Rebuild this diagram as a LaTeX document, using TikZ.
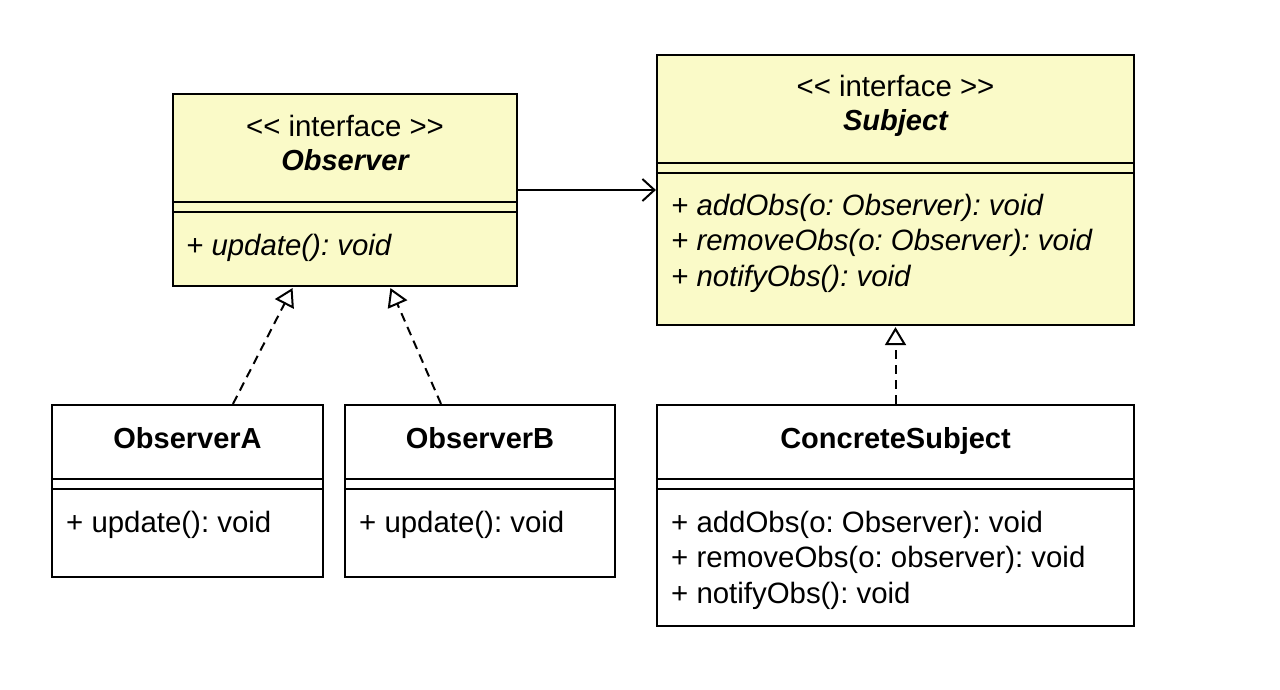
\documentclass[tikz,border=0pt]{standalone}
\usepackage{fontspec}
\setmainfont{Liberation Sans}
\usetikzlibrary{arrows.meta,calc}
\definecolor{ifill}{HTML}{FAFAC8}
\frenchspacing
\tikzset{
  cls/.style={draw=black, line width=2.2pt, rectangle, inner sep=0pt},
  iface/.style={cls, fill=ifill},
  plain/.style={cls, fill=white},
  txt/.style={inner sep=0pt, font=\fontsize{29.4}{34}\selectfont},
  ttl/.style={inner sep=0pt, font=\fontsize{29}{34}\selectfont\bfseries},
  sep/.style={line width=2.2pt},
  realize/.style={line width=2pt, dash pattern=on 9pt off 6pt, -{Triangle[open,length=18pt,width=21pt,line width=2pt]}, shorten >=1pt},
  assoc/.style={line width=2pt, -{Straight Barb[length=12pt,width=22pt,line width=2pt]}}
}
\begin{document}
\begin{tikzpicture}[x=1pt,y=-1pt]
\useasboundingbox[fill=white] (0,0) rectangle (1280,690);
% class boxes
\node[iface, minimum width=344pt, minimum height=192pt] (obs) at (345,190) {};
\node[iface, minimum width=477pt, minimum height=270pt] (subj) at (895.5,190) {};
\node[plain, minimum width=271pt, minimum height=172pt] (oa) at (187.5,491) {};
\node[plain, minimum width=270pt, minimum height=172pt] (ob) at (480,491) {};
\node[plain, minimum width=477pt, minimum height=221pt] (cs) at (895.5,515.5) {};
% separators
\draw[sep] (obs.west |- 0,202) -- (obs.east |- 0,202);
\draw[sep] (obs.west |- 0,212) -- (obs.east |- 0,212);
\draw[sep] (subj.west |- 0,163) -- (subj.east |- 0,163);
\draw[sep] (subj.west |- 0,173) -- (subj.east |- 0,173);
\draw[sep] (oa.west |- 0,479) -- (oa.east |- 0,479);
\draw[sep] (oa.west |- 0,489) -- (oa.east |- 0,489);
\draw[sep] (ob.west |- 0,479) -- (ob.east |- 0,479);
\draw[sep] (ob.west |- 0,489) -- (ob.east |- 0,489);
\draw[sep] (cs.west |- 0,479) -- (cs.east |- 0,479);
\draw[sep] (cs.west |- 0,489) -- (cs.east |- 0,489);
% texts: Observer
\node[txt, anchor=base] (obs1) at (345,137) {<{}< interface >{}>};
\node[ttl, anchor=base, font=\fontsize{29}{34}\selectfont\bfseries\itshape] (obs2) at (345,171) {Observer};
\node[txt, anchor=base west, font=\fontsize{29.4}{34}\selectfont\itshape] (obs3) at (186,255) {+ update(): void};
% texts: Subject
\node[txt, anchor=base] (subj1) at (895.5,97) {<{}< interface >{}>};
\node[ttl, anchor=base, font=\fontsize{29}{34}\selectfont\bfseries\itshape] (subj2) at (895.5,131) {Subject};
\node[txt, anchor=base west, font=\fontsize{29.4}{34}\selectfont\itshape] (subj3) at (671,215) {+ addObs(o: Observer): void};
\node[txt, anchor=base west, font=\fontsize{29.4}{34}\selectfont\itshape] (subj4) at (671,250) {+ removeObs(o: Observer): void};
\node[txt, anchor=base west, font=\fontsize{29.4}{34}\selectfont\itshape] (subj5) at (671,286) {+ notifyObs(): void};
% ObserverA / B
\node[ttl, anchor=base] (oa1) at (187.5,448) {ObserverA};
\node[txt, anchor=base west] (oa2) at (66,532) {+ update(): void};
\node[ttl, anchor=base] (ob1) at (480,448) {ObserverB};
\node[txt, anchor=base west] (ob2) at (359,532) {+ update(): void};
% ConcreteSubject
\node[ttl, anchor=base] (cs1) at (895.5,448) {ConcreteSubject};
\node[txt, anchor=base west] (cs2) at (671,532) {+ addObs(o: Observer): void};
\node[txt, anchor=base west] (cs3) at (671,567) {+ removeObs(o: observer): void};
\node[txt, anchor=base west] (cs4) at (671,603) {+ notifyObs(): void};
% connectors
\draw[assoc] (obs.east) -- (subj.west);
\draw[realize] ([xshift=45.5pt]oa.north) -- ([xshift=-52pt]obs.south);
\draw[realize] ([xshift=-39pt]ob.north) -- ([xshift=45pt]obs.south);
\draw[realize] (cs.north) -- (subj.south);
\end{tikzpicture}
\end{document}
